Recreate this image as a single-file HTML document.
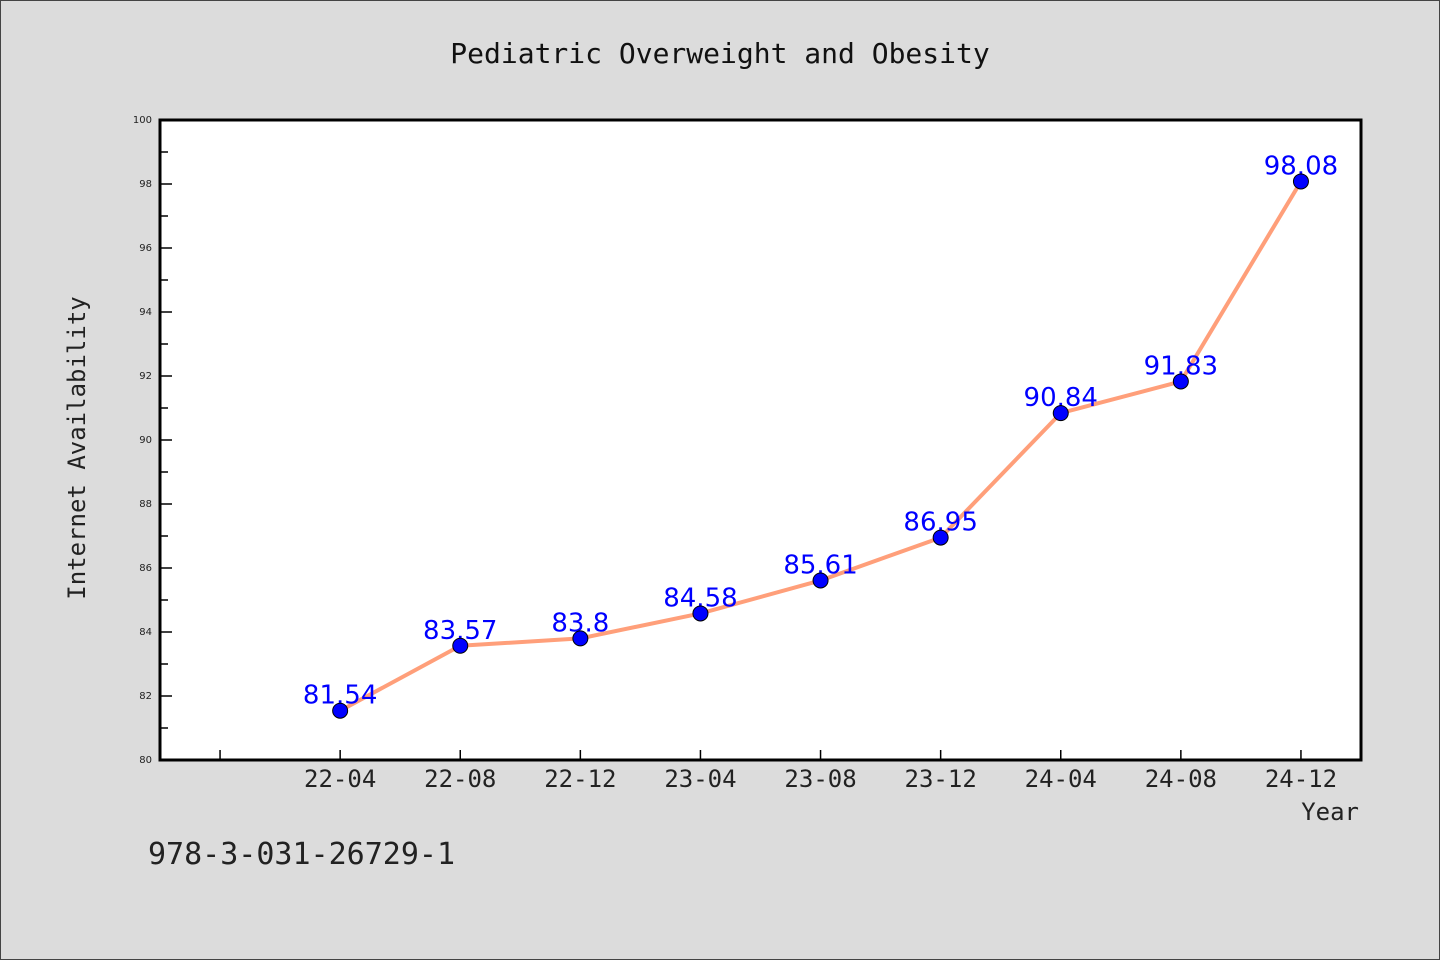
<!DOCTYPE html>
<html><head><meta charset="utf-8"><style>
html,body{margin:0;padding:0;background:#dcdcdc}
svg{display:block}
</style></head><body>
<svg id="chart" width="1440" height="960" xmlns="http://www.w3.org/2000/svg">
<rect x="0.5" y="0.5" width="1439" height="959" fill="#dcdcdc" stroke="#444"/>
<text x="720" y="63" text-anchor="middle" font-family="'WenQuanYi Zen Hei','DejaVu Sans Mono',monospace" font-size="28" fill="#111">Pediatric Overweight and Obesity</text>
<rect x="160" y="120" width="1201" height="640" fill="#fff" stroke="#000" stroke-width="3"/>
<g id="yaxis"></g>
<g id="xaxis"></g>
<g id="series"></g>
<text transform="translate(85,448) rotate(-90)" text-anchor="middle" font-family="'WenQuanYi Zen Hei','DejaVu Sans Mono',monospace" font-size="24" fill="#222">Internet Availability</text>
<text x="1359" y="820" text-anchor="end" font-family="'WenQuanYi Zen Hei','DejaVu Sans Mono',monospace" font-size="24" fill="#222">Year</text>
<text x="148" y="864" font-family="'WenQuanYi Zen Hei','DejaVu Sans Mono',monospace" font-size="30" fill="#222">978-3-031-26729-1</text>
</svg>
<script>
const categories=["22-04","22-08","22-12","23-04","23-08","23-12","24-04","24-08","24-12"];
const values=[81.54,83.57,83.8,84.58,85.61,86.95,90.84,91.83,98.08];
const yTicks=[80,82,84,86,88,90,92,94,96,98,100];
const NS="http://www.w3.org/2000/svg";
const L=160,R=1361,T=120,B=760,yMin=80,yMax=100;
const x=i=>L+(i+1.5)*(R-L)/(categories.length+1);
const y=v=>B-(v-yMin)/(yMax-yMin)*(B-T);
function mk(tag,attrs,parent){const e=document.createElementNS(NS,tag);for(const k in attrs)e.setAttribute(k,attrs[k]);parent.appendChild(e);return e;}
const ya=document.getElementById('yaxis'),xa=document.getElementById('xaxis'),sg=document.getElementById('series');
yTicks.forEach((t,i)=>{
 const ln=mk('line',{x1:L,x2:L+12,y1:y(t),y2:y(t),stroke:'#000','stroke-width':1.5},ya);
 
 
 const tx=mk('text',{x:L-8,y:y(t)+3,'text-anchor':'end','font-family':'DejaVu Sans,sans-serif','font-size':10,fill:'#222'},ya);
 tx.textContent=t;
 
 
 if(i<yTicks.length-1){
  const m=mk('line',{x1:L,x2:L+8,y1:y(t+1),y2:y(t+1),stroke:'#000','stroke-width':1.5},ya);
  
  
 }
});
for(let i=-1;i<categories.length;i++){
 const ln=mk('line',{x1:x(i),x2:x(i),y1:B,y2:B-10,stroke:'#000','stroke-width':1.5},xa);
 
 
 if(i>=0){
  const tx=mk('text',{x:x(i),y:B+27,'text-anchor':'middle','font-family':"'WenQuanYi Zen Hei','DejaVu Sans Mono',monospace",'font-size':24,fill:'#222'},xa);
  tx.textContent=categories[i];
  
  
 }
}
const pl=mk('polyline',{points:values.map((v,i)=>x(i)+','+y(v)).join(' '),fill:'none',stroke:'#ff9f7a','stroke-width':4,'stroke-linejoin':'round'},sg);


values.forEach((v,i)=>{
 const tx=mk('text',{x:x(i),y:y(v)-7,'text-anchor':'middle','font-family':'DejaVu Sans,sans-serif','font-size':26,fill:'#0000ff'},sg);
 tx.textContent=v;
 
 
});
values.forEach((v,i)=>{
 const c=mk('circle',{cx:x(i),cy:y(v),r:7.5,fill:'#0000ff',stroke:'#000','stroke-width':1},sg);
 
 
});
</script>
</body></html>
